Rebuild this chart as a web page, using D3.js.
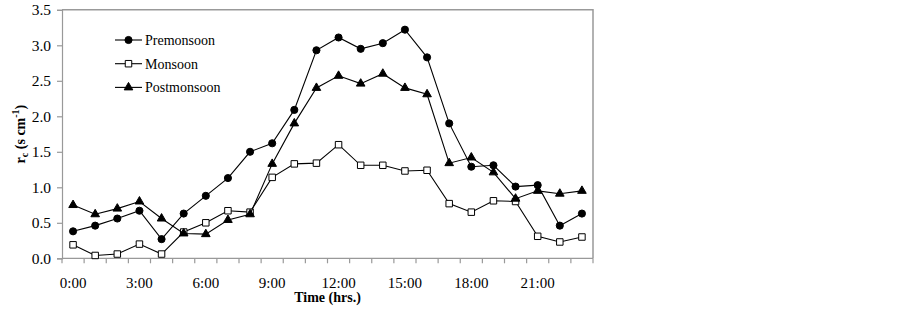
<!DOCTYPE html>
<html lang="en">
<head>
  <meta charset="utf-8">
  <title>rc diurnal variation</title>
  <script src="https://d3js.org/d3.v7.min.js"></script>
  <style type="text/css">
    body { margin: 0; background: #fff; }
    svg text { font-family: "Liberation Serif", "Times New Roman", serif; }
  </style>
</head>
<body>
  <script type="text/javascript">

const hours = d3.range(24);
const tickLabels = ["0:00", "3:00", "6:00", "9:00", "12:00", "15:00", "18:00", "21:00"];
const yTicks = [0, 0.5, 1.0, 1.5, 2.0, 2.5, 3.0, 3.5];

const premonsoon = [0.38, 0.46, 0.56, 0.67, 0.27, 0.63, 0.88, 1.13, 1.50, 1.62, 2.09, 2.93,
                    3.11, 2.95, 3.03, 3.22, 2.83, 1.90, 1.29, 1.31, 1.01, 1.03, 0.46, 0.63];
const monsoon = [0.19, 0.04, 0.06, 0.20, 0.06, 0.37, 0.50, 0.67, 0.65, 1.14, 1.33, 1.34,
                 1.60, 1.31, 1.31, 1.23, 1.24, 0.77, 0.65, 0.81, 0.80, 0.31, 0.23, 0.30];
const postmonsoon = [0.75, 0.62, 0.70, 0.80, 0.56, 0.35, 0.34, 0.54, 0.62, 1.33, 1.90, 2.40,
                     2.57, 2.46, 2.60, 2.40, 2.31, 1.34, 1.42, 1.21, 0.84, 0.95, 0.91, 0.95];

const series = [
  {name: "Premonsoon", values: premonsoon, symbol: d3.symbolCircle, size: 40, fill: "black"},
  {name: "Monsoon", values: monsoon, symbol: d3.symbolSquare, size: 42, fill: "white"},
  {name: "Postmonsoon", values: postmonsoon, symbol: d3.symbolTriangle, size: 32, fill: "black"}
];

const svgWidth = 902, svgHeight = 309;
const plotLeft = 62, plotRight = 593, plotTop = 9.8, plotBottom = 258.3;

const svg = d3.select("body").append("svg")
    .attr("width", svgWidth)
    .attr("height", svgHeight);

const xScale = d3.scaleBand()
    .domain(hours)
    .range([plotLeft, plotRight]);

const yScale = d3.scaleLinear()
    .domain([0, 3.5])
    .range([plotBottom, plotTop]);

// plot frame (top + right)
svg.append("path")
    .attr("d", `M${plotLeft},${plotTop}H${plotRight}V${plotBottom}`)
    .attr("fill", "none")
    .attr("stroke", "#999")
    .attr("stroke-width", 1.5);

// y axis
const yAxis = svg.append("g")
    .attr("transform", `translate(${plotLeft},0)`)
    .call(d3.axisLeft(yScale).tickValues(yTicks).tickFormat(d3.format(".1f")).tickSize(5).tickPadding(6));
yAxis.selectAll("path, line").attr("stroke", "#999").attr("stroke-width", 1.2);
yAxis.selectAll("text").attr("font-size", 15.5).attr("fill", "#000")
    .style("font-family", "'Liberation Serif', serif");

// x axis: ticks at category boundaries, labels every 3 hours
const xAxis = svg.append("g")
    .attr("transform", `translate(0,${plotBottom})`);
xAxis.append("line")
    .attr("x1", plotLeft).attr("x2", plotRight)
    .attr("stroke", "#999").attr("stroke-width", 1.2);
xAxis.selectAll("line.tick")
    .data(d3.range(25))
    .enter().append("line")
    .attr("class", "tick")
    .attr("x1", d => plotLeft + d * xScale.step())
    .attr("x2", d => plotLeft + d * xScale.step())
    .attr("y1", 0).attr("y2", 5)
    .attr("stroke", "#999").attr("stroke-width", 1.2);
xAxis.selectAll("text")
    .data(tickLabels)
    .enter().append("text")
    .attr("x", (d, i) => xScale(i * 3) + xScale.bandwidth() / 2)
    .attr("y", 30)
    .attr("text-anchor", "middle")
    .attr("font-size", 15)
    .text(d => d);

// lines + markers
const line = d3.line()
    .x((d, i) => xScale(i) + xScale.bandwidth() / 2)
    .y(d => yScale(d));

series.forEach(s => {
  svg.append("path")
      .datum(s.values)
      .attr("d", line)
      .attr("fill", "none")
      .attr("stroke", "black")
      .attr("stroke-width", 1.1);

  svg.selectAll(null)
      .data(s.values)
      .enter().append("path")
      .attr("d", d3.symbol().type(s.symbol).size(s.size))
      .attr("transform", (d, i) => `translate(${xScale(i) + xScale.bandwidth() / 2},${yScale(d)})`)
      .attr("fill", s.fill)
      .attr("stroke", "black")
      .attr("stroke-width", 1);
});

// legend
const legend = svg.append("g").attr("transform", "translate(115,40)");
series.forEach((s, i) => {
  const g = legend.append("g").attr("transform", `translate(0,${i * 23.7})`);
  g.append("line").attr("x1", 0).attr("x2", 27).attr("stroke", "black").attr("stroke-width", 1.1);
  g.append("path")
      .attr("d", d3.symbol().type(s.symbol).size(s.size))
      .attr("transform", "translate(13.5,0)")
      .attr("fill", s.fill).attr("stroke", "black");
  g.append("text")
      .attr("x", 30).attr("y", 5)
      .attr("font-size", 14)
      .text(s.name);
});

// axis titles
svg.append("text")
    .attr("x", (plotLeft + plotRight) / 2)
    .attr("y", 302)
    .attr("text-anchor", "middle")
    .attr("font-size", 14)
    .attr("font-weight", "bold")
    .text("Time (hrs.)");

const yTitle = svg.append("text")
    .attr("transform", `translate(25,${(plotTop + plotBottom) / 2}) rotate(-90)`)
    .attr("text-anchor", "middle")
    .attr("font-size", 14)
    .attr("font-weight", "bold");
yTitle.append("tspan").text("r");
yTitle.append("tspan").attr("font-size", 10).attr("dy", 3).text("c");
yTitle.append("tspan").attr("dy", -3).text(" (s cm");
yTitle.append("tspan").attr("font-size", 10).attr("dy", -6).text("-1");
yTitle.append("tspan").attr("dy", 6).text(")");

  </script>
</body>
</html>
